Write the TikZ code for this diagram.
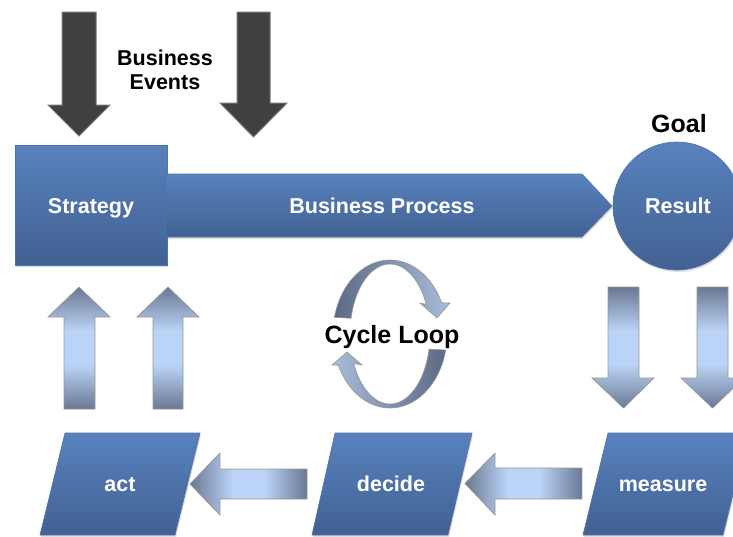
\documentclass[tikz,border=0pt]{standalone}
\usepackage{fontspec}
\setmainfont{Liberation Sans}
\usetikzlibrary{shadows}
\definecolor{boxtop}{RGB}{88,130,190}
\definecolor{boxbot}{RGB}{66,97,146}
\definecolor{boxedge}{RGB}{80,115,168}
\definecolor{arrdark}{RGB}{106,120,146}
\definecolor{arrlight}{RGB}{186,211,246}
\definecolor{arredge}{RGB}{150,150,150}
\definecolor{evfill}{RGB}{64,64,64}
\definecolor{evedge}{RGB}{120,120,120}
\definecolor{cycdark}{RGB}{92,106,132}
\definecolor{cyclight}{RGB}{168,188,218}
\pgfdeclareverticalshading{vlightsh}{100bp}{color(0bp)=(arrdark); color(25bp)=(arrdark); color(43bp)=(arrlight); color(57bp)=(arrlight); color(75bp)=(arrdark); color(100bp)=(arrdark)}
\pgfdeclarehorizontalshading{hlightsh}{100bp}{color(0bp)=(arrdark); color(25bp)=(arrdark); color(43bp)=(arrlight); color(57bp)=(arrlight); color(75bp)=(arrdark); color(100bp)=(arrdark)}
\begin{document}
\begin{tikzpicture}[x=1pt,y=-1pt,
  bluebox/.style={top color=boxtop,bottom color=boxbot,draw=boxedge,line width=0.6pt,
    drop shadow={shadow xshift=1pt,shadow yshift=-2pt,opacity=0.25}},
  wtxt/.style={text=white,font=\fontsize{21.5}{24}\selectfont\bfseries,inner sep=0pt,anchor=base},
  btxt/.style={text=black,font=\fontsize{21.5}{24}\selectfont\bfseries,inner sep=0pt,align=center},
  bigtxt/.style={text=black,font=\fontsize{25}{28}\selectfont\bfseries,inner sep=0pt,anchor=base},
  evarrow/.style={fill=evfill,draw=evedge,line width=1pt},
  vlight/.style={shade,shading=vlightsh,draw=arredge,line width=0.7pt},
  hlight/.style={shade,shading=hlightsh,draw=arredge,line width=0.7pt},
  cyc/.style={draw=arredge,line width=0.6pt}
]
\clip (0,0) rectangle (733,536);

% business events arrows
\path[evarrow] (62,12) -- (96,12) -- (96,105) -- (110,105) -- (79,136) -- (48,105) -- (62,105) -- cycle;
\path[evarrow] (237,12) -- (270,12) -- (270,103) -- (287,103) -- (253.5,137) -- (220,103) -- (237,103) -- cycle;
\node[btxt] (events) at (165,70) {Business\\Events};

% strategy and process
\node[bluebox,minimum width=152,minimum height=120,inner sep=0pt] (strategy) at (91,205) {};
\path[bluebox] (166,174) -- (582,174) -- (612,206) -- (582,237) -- (166,237) -- cycle;
\node[wtxt] (strategytxt) at (91,213) {Strategy};
\node[wtxt] (process) at (382,213) {Business Process};

% result
\node[bluebox,circle,minimum size=128,inner sep=0pt] (result) at (677,206) {};
\node[wtxt] (resulttxt) at (678,213) {Result};
\node[bigtxt] (goal) at (679,132) {Goal};

% down arrows (measure)
\path[vlight] (608,287) -- (639,287) -- (639,378) -- (654,378) -- (623.5,408) -- (592,378) -- (608,378) -- cycle;
\path[vlight] (697,287) -- (728,287) -- (728,378) -- (744,378) -- (712.5,408) -- (681,378) -- (697,378) -- cycle;

% up arrows (act)
\path[vlight] (64,409) -- (95,409) -- (95,317) -- (110,317) -- (79,287) -- (48,317) -- (64,317) -- cycle;
\path[vlight] (153,409) -- (183,409) -- (183,317) -- (199,317) -- (168,287) -- (137,317) -- (153,317) -- cycle;

% bottom row parallelograms
\path[bluebox] (65,433) -- (200,433) -- (175,535) -- (40,535) -- cycle;
\node[wtxt] (act) at (120,491) {act};
\path[bluebox] (335,433) -- (472,433) -- (448,535) -- (312,535) -- cycle;
\node[wtxt] (decide) at (391,491) {decide};
\path[bluebox] (608,433) -- (748,433) -- (723,535) -- (583,535) -- cycle;
\node[wtxt] (measure) at (663,491) {measure};

% left arrows
\path[hlight] (307,469) -- (220,469) -- (220,453) -- (190,484) -- (220,515) -- (220,499) -- (307,499) -- cycle;
\path[hlight] (582,468) -- (495,468) -- (495,453) -- (465,483.5) -- (495,515) -- (495,499) -- (582,499) -- cycle;

% cycle loop
\shade[cyc,left color=cycdark,right color=cyclight]
  plot[smooth,domain=167:25,samples=40] ({390+57*cos(\x)},{334-74*sin(\x)})
  -- (450,303) -- (437,318) -- (420,303)
  -- plot[smooth,domain=25:167,samples=40] ({390+40*cos(\x)},{334-70*sin(\x)}) -- cycle;
\shade[cyc,left color=cyclight,right color=cycdark]
  plot[smooth,domain=-12.5:-155,samples=40] ({390+57*cos(\x)},{334-74*sin(\x)})
  -- (332,365) -- (347,352) -- (362,365)
  -- plot[smooth,domain=-155:-12.5,samples=40] ({390+40*cos(\x)},{334-70*sin(\x)}) -- cycle;
\node[bigtxt] (cycle) at (392,343) {Cycle Loop};
\end{tikzpicture}
\end{document}
